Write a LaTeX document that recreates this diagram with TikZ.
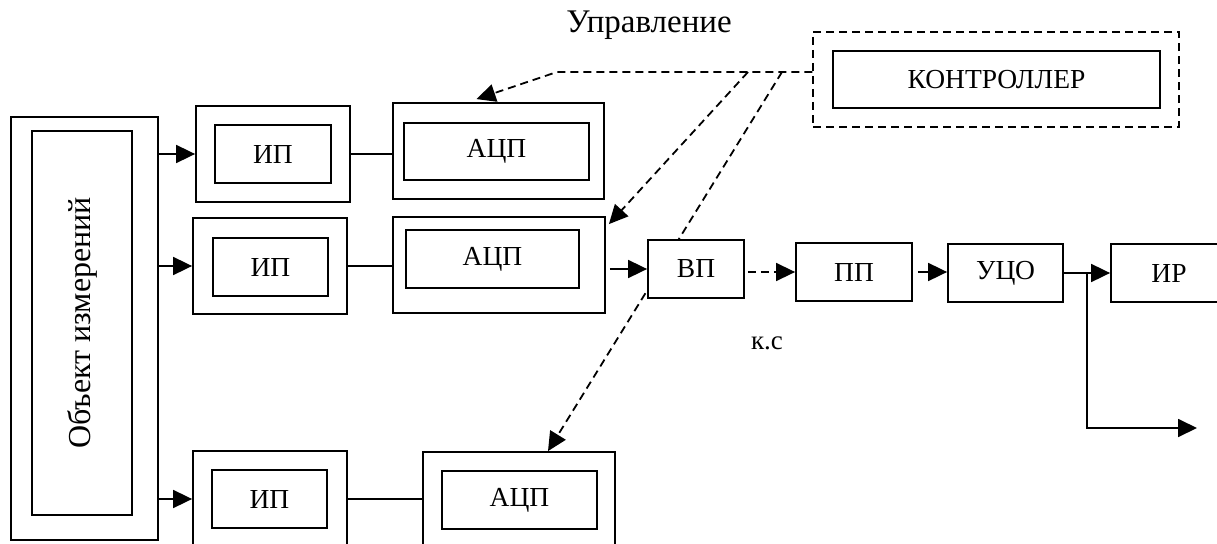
\documentclass[tikz,border=0pt]{standalone}
\usepackage{fontspec}
\setmainfont{Liberation Serif}
\usetikzlibrary{arrows.meta,positioning,calc,backgrounds}
\tikzset{>=Stealth}

\begin{document}
\begin{tikzpicture}[x=1pt, y=-1pt,
    frame/.style={draw, line width=1.8pt, fill=white, inner sep=0pt},
    unit/.style={frame, minimum height=58pt, font=\fontsize{27.5}{32}\selectfont},
    shell/.style={frame, minimum height=96pt},
    arr/.style={-{Triangle[length=19pt,width=18pt]}, line width=1.8pt},
    wire/.style={line width=1.8pt},
    ctl/.style={line width=1.5pt, dash pattern=on 8pt off 5pt}
  ]
    \useasboundingbox (0,0) rectangle (1217,543);
    \clip (0,0) rectangle (1217,543);

    % object
    \node[frame, minimum width=147pt, minimum height=423pt] (objo) at (84.5,328.5) {};
    \node[frame, rotate=90, minimum width=384pt, minimum height=100pt,
          font=\fontsize{32}{36}\selectfont] (obj) at (82,323) {Объект измерений};

    % channels
    \node[shell, minimum width=154pt] (ip1o) at (273,154) {};
    \node[unit, minimum width=116pt] (ip1) at (ip1o) {ИП};
    \node[shell, minimum width=154pt] (ip2o) at (270,266) {};
    \node[unit, minimum width=115pt] (ip2) at (270.5,267) {ИП};
    \node[shell, minimum width=154pt] (ip3o) at (270,499) {};
    \node[unit, minimum width=115pt] (ip3) at (269.5,499) {ИП};

    \node[shell, minimum width=211pt] (adc1o) at (498.5,151) {};
    \node[unit, minimum width=185pt, minimum height=57pt] (adc1) at (496.5,151.5) {АЦП};
    \node[shell, minimum width=212pt] (adc2o) at (499,265) {};
    \node[unit, minimum width=173pt] (adc2) at (492.5,259) {АЦП};
    \node[shell, minimum width=192pt] (adc3o) at (519,500) {};
    \node[unit, minimum width=155pt] (adc3) at (519.5,500) {АЦП};

    % output chain
    \node[unit, minimum width=96pt] (vp) at (696,269) {ВП};
    \node[unit, minimum width=116pt] (pp) at (854,272) {ПП};
    \node[unit, minimum width=115pt] (uco) at (1005.5,273) {УЦО};
    \node[unit, minimum width=116pt] (ir) at (1169,273) {ИР};

    % controller
    \node[frame, ctl, minimum width=366pt, minimum height=95pt] (ctrlo) at (996,79.5) {};
    \node[unit, minimum width=327pt, minimum height=57pt] (ctrl) at (996.5,79.5) {КОНТРОЛЛЕР};

    \node[font=\fontsize{33}{38}\selectfont] (upr) at (649,25) {Управление};
    \node[font=\fontsize{27}{30}\selectfont] (ks) at (767,343) {к.с};

    \coordinate (bus) at (557,72);
    \coordinate (k1) at (748,72);
    \coordinate (k2) at (782,72);
    \coordinate (br) at ($(uco.east)!0.5!(ir.west)$);
    \coordinate (out) at (1197,428);

    \draw[arr] (objo.east |- ip1o) -- (ip1o.west);
    \draw[arr] (objo.east |- ip2o) -- (ip2o.west);
    \draw[arr] (objo.east |- ip3o) -- (ip3o.west);

    \draw[wire] (ip1o.east) -- (ip1o.east -| adc1o.west);
    \draw[wire] (ip2o.east) -- (ip2o.east -| adc2o.west);
    \draw[wire] (ip3o.east) -- (ip3o.east -| adc3o.west);

    \draw[arr, shorten <=4pt] (adc2o.east |- vp.west) -- (vp.west);
    \draw[arr, ctl, shorten <=3pt] (vp.east |- pp.west) -- (pp.west);
    \draw[arr, shorten <=5pt] (pp.east) -- (pp.east -| uco.west);
    \draw[arr] (uco.east) -- (ir.west);
    \draw[wire] (br) |- ([xshift=-18pt]out);
    \draw[arr] ([xshift=-20pt]out) -- (out);

    \begin{scope}[on background layer]
      \draw[ctl, arr] (ctrlo.west |- bus) -- (bus) -- ($(adc1o.north)+(-22,-3)$);
      \draw[ctl, arr] (k1) -- ($(adc2o.north east)+(3,8)$);
      \draw[ctl, arr] (k2) -- ($(adc3o.north)+(29,0)$);
    \end{scope}
  \end{tikzpicture}
\end{document}
